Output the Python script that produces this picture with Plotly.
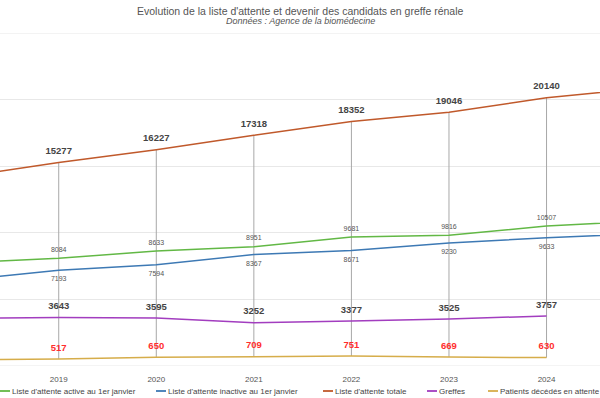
import plotly.graph_objects as go

years = [2018, 2019, 2020, 2021, 2022, 2023, 2024, 2025]
active = [7750, 8084, 8633, 8951, 9681, 9816, 10507, 10900]
inactive = [6450, 7193, 7594, 8367, 8671, 9230, 9633, 9950]
total = [14200, 15277, 16227, 17318, 18352, 19046, 20140, 20850]
greffes = [3567, 3643, 3595, 3252, 3377, 3525, 3757, None]
deces = [470, 517, 650, 709, 751, 669, 630, None]
tick_years = [2019, 2020, 2021, 2022, 2023, 2024]

names = ["Liste d'attente active au 1er janvier",
         "Liste d'attente inactive au 1er janvier",
         "Liste d'attente totale",
         "Greffes",
         "Patients décédés en attente"]
colors = ["#62b845", "#3d79b4", "#c0592b", "#a23dbf", "#d6ad4a"]

FONT = "Liberation Sans, Arial, sans-serif"
W, H = 600, 398
MT, MB = 33, 32
PH = H - MT - MB
Y_MAX = 25000

fig = go.Figure()

# high-low drop lines
dx, dy = [], []
for i, yr in enumerate(years):
    vals = [s[i] for s in (active, inactive, total, greffes, deces) if s[i] is not None]
    dx += [yr, yr, None]
    dy += [max(vals), min(vals), None]
fig.add_trace(go.Scatter(x=dx, y=dy, mode="lines", line=dict(color="#a8a8a8", width=1),
                         hoverinfo="skip", showlegend=False))

series = [
    (active, colors[0], "top center", dict(size=7, color="#555555"), 6),
    (inactive, colors[1], "bottom center", dict(size=7, color="#555555"), 8),
    (total, colors[2], "top center", dict(size=9.5, color="#444444", weight="bold"), 8),
    (greffes, colors[3], "top center", dict(size=9.5, color="#444444", weight="bold"), 8),
    (deces, colors[4], "top center", dict(size=9.5, color="#ff2d2d", weight="bold"), 8),
]
for (vals, col, pos, tf, ms), nm in zip(series, names):
    fig.add_trace(go.Scatter(
        x=years, y=vals, name=nm, mode="lines+markers+text",
        line=dict(color=col, width=1.5),
        marker=dict(size=ms, opacity=0),
        text=[("" if v is None else str(v)) for v in vals],
        textposition=pos, textfont=dict(family=FONT, **tf),
        cliponaxis=True, showlegend=False, hoverinfo="skip"))

fig.update_xaxes(range=[2018.398, 2024.548], tickvals=tick_years,
                 ticktext=[str(y) for y in tick_years], showgrid=False, zeroline=False,
                 showline=False, ticks="", ticklabelstandoff=7,
                 tickfont=dict(family=FONT, size=8, color="#555555"))
fig.update_yaxes(range=[0, Y_MAX], dtick=5000, showgrid=True, gridcolor="#e8e8e8", gridwidth=1,
                 showticklabels=False, zeroline=False, showline=False)

def py(ypx):
    return (H - MB - ypx) / PH

annotations = [
    dict(text="Evolution de la liste d'attente et devenir des candidats en greffe rénale",
         x=0.5, y=py(10.5), xref="paper", yref="paper", showarrow=False,
         xanchor="center", yanchor="middle", font=dict(family=FONT, size=10.5, color="#555555")),
    dict(text="<i>Données : Agence de la biomédecine</i>",
         x=0.5, y=py(20.5), xref="paper", yref="paper", showarrow=False,
         xanchor="center", yanchor="middle", font=dict(family=FONT, size=9, color="#555555")),
]
shapes = [
    dict(type="line", xref="paper", yref="y", x0=0, x1=1, y0=0, y1=0,
         line=dict(color="#e8e8e8", width=1), layer="below"),
    dict(type="line", xref="paper", yref="y", x0=0, x1=1, y0=Y_MAX, y1=Y_MAX,
         line=dict(color="#e8e8e8", width=1), layer="below"),
]
leg_x = [0, 156, 323, 427, 488]
leg_y = 391
for nm, col, lx in zip(names, colors, leg_x):
    shapes.append(dict(type="line", xref="paper", yref="paper",
                       x0=lx / W, x1=(lx + 10) / W, y0=py(leg_y), y1=py(leg_y),
                       line=dict(color=col, width=1.8)))
    annotations.append(dict(text=nm, x=(lx + 10) / W, y=py(leg_y), xref="paper", yref="paper",
                            showarrow=False, xanchor="left", yanchor="middle",
                            font=dict(family=FONT, size=8, color="#444444")))

fig.update_layout(width=W, height=H, margin=dict(l=0, r=0, t=MT, b=MB),
                  paper_bgcolor="white", plot_bgcolor="white", showlegend=False,
                  annotations=annotations, shapes=shapes,
                  font=dict(family=FONT))

fig.write_html("out.html", config={"displayModeBar": False},
               post_script="document.body.style.margin='0';document.body.style.overflow='hidden';")
